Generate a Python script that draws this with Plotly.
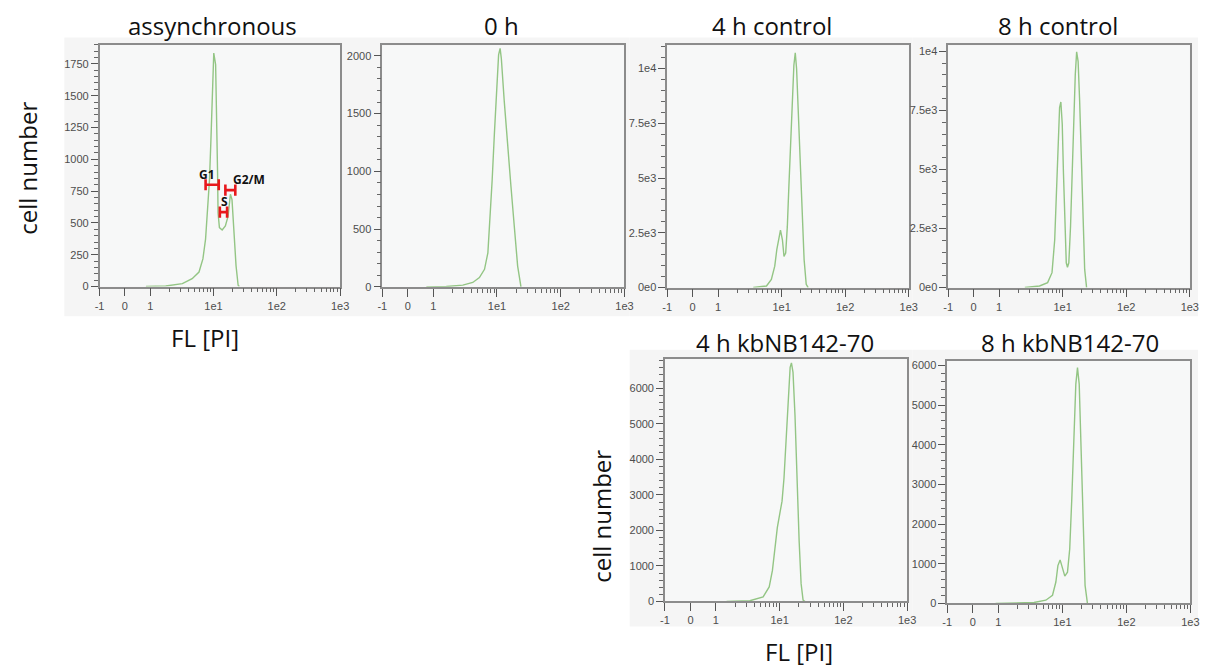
import numpy as np
import plotly.graph_objects as go

W, H = 1207, 672

# ---------------- data (FL channel value, cell count) ----------------
asyn_fl = [0.83, 1.76, 3.22, 4.6, 5.9, 6.8, 7.49, 8.05, 8.64, 9.1, 9.55, 10.1, 10.8, 11.2, 11.6,
           11.8, 12.4, 13.7, 15.4, 17.0, 18.5, 19.6, 20.9, 22.7, 24.5, 25.6]
asyn_n = [0, 5, 23, 62, 114, 217, 373, 580, 838, 1149, 1537, 1835, 1745, 1408, 890,
          580, 463, 445, 476, 554, 725, 683, 450, 165, 10, 0]

h0_fl = [0.73, 1.6, 2.91, 4.17, 5.3, 6.37, 7.2, 7.8, 8.4, 9.1, 9.9, 10.6, 11.2, 11.7, 13.0,
         14.7, 16.6, 18.7, 21.1, 23.8]
h0_n = [0, 3, 15, 38, 80, 152, 295, 580, 923, 1323, 1722, 2008, 2065, 1979, 1608,
        1208, 865, 523, 180, 0]

c4_fl = [3.58, 5.78, 6.9, 7.8, 8.4, 9.1, 9.6, 10.3, 10.9, 11.6, 12.3, 13.0, 13.9, 14.7, 15.6,
         16.4, 17.2, 18.2, 19.6, 21.1, 22.6, 24.4, 26.2]
c4_n = [0, 72, 375, 975, 1728, 2330, 2620, 2180, 1426, 1580, 2780, 4585, 6692, 8800, 10150,
        10720, 10000, 8195, 5940, 3385, 1277, 150, 0]

c8_fl = [2.54, 4.33, 5.8, 6.8, 7.5, 8.0, 8.55, 8.95, 9.37, 9.85, 10.3, 10.8, 11.4, 11.9, 12.5,
         13.3, 14.1, 14.9, 15.8, 16.6, 17.5, 18.5, 19.7, 20.9, 22.2, 23.8]
c8_n = [0, 67, 210, 630, 2027, 4125, 6223, 7620, 7860, 6924, 4825, 2446, 1049, 860, 1049,
        2585, 4825, 7200, 9022, 9980, 9580, 7900, 5100, 2585, 768, 0]

k4_fl = [1.47, 3.4, 5.5, 6.85, 7.7, 8.4, 9.2, 10.0, 10.9, 11.7, 12.6, 13.5, 14.6, 15.3, 16.2,
         17.4, 18.7, 20.2, 21.7, 23.3, 25.0]
k4_n = [0, 20, 130, 410, 874, 1527, 2085, 2456, 2827, 3480, 4597, 5805, 6595, 6720, 6455,
        5247, 3480, 1711, 502, 36, 0]

k8_fl = [0.89, 1.74, 3.6, 5.5, 7.0, 7.9, 8.5, 9.2, 10.0, 10.9, 12.0, 13.0, 14.0, 15.1, 16.2,
         17.2, 18.3, 19.6, 21.1, 22.6, 24.6]
k8_n = [0, 5, 25, 82, 207, 540, 955, 1097, 873, 688, 788, 1372, 2618, 4279, 5526,
        5943, 5526, 3865, 1786, 456, 0]

titles = ["assynchronous", "0 h", "4 h control", "8 h control", "4 h kbNB142-70", "8 h kbNB142-70"]

x_tick_fl = [-1, 0, 1, 10, 100, 1000]
x_tick_text = ["-1", "0", "1", "1e1", "1e2", "1e3"]
x_minor_fl = [2, 3, 4, 5, 6, 7, 8, 9, 20, 30, 40, 50, 60, 70, 80, 90,
              200, 300, 400, 500, 600, 700, 800, 900]

y_ticks_cnt = [[0, 250, 500, 750, 1000, 1250, 1500, 1750],
               [0, 500, 1000, 1500, 2000],
               [0, 2500, 5000, 7500, 10000],
               [0, 2500, 5000, 7500, 10000],
               [0, 1000, 2000, 3000, 4000, 5000, 6000],
               [0, 1000, 2000, 3000, 4000, 5000, 6000]]
y_ticks_txt = [[str(v) for v in y_ticks_cnt[0]],
               [str(v) for v in y_ticks_cnt[1]],
               ["0e0", "2.5e3", "5e3", "7.5e3", "1e4"],
               ["0e0", "2.5e3", "5e3", "7.5e3", "1e4"],
               [str(v) for v in y_ticks_cnt[4]],
               [str(v) for v in y_ticks_cnt[5]]]
y_minor_step = [50, 100, 500, 500, 200, 200]
y_max = [1900, 2090, 11050, 10250, 6820, 6110]

# gate markers in the asynchronous panel: (label, FL start, FL end, count)
gate_names = ["G1", "S", "G2/M"]
gate_lo = [7.5, 12.6, 15.4]
gate_hi = [12.1, 16.4, 22.1]
gate_cnt = [800, 585, 758]
gate_lbl_fl = [7.9, 14.7, 36.0]
gate_lbl_cnt = [880, 665, 840]


# ---------------- custom biexponential-like display scale ----------------
def biex(v):
    v = np.asarray(v, dtype=float)
    return np.where(v < 1, v, 1 + 2.5 * np.log10(np.maximum(v, 1)))


series = [(asyn_fl, asyn_n), (h0_fl, h0_n), (c4_fl, c4_n), (c8_fl, c8_n), (k4_fl, k4_n), (k8_fl, k8_n)]

# panel frames in pixels: (left, right, top, bottom)
frames = [(95.7, 339.0, 43.3, 288.0),
          (381.7, 626.7, 44.0, 288.3),
          (670.0, 914.3, 44.0, 289.0),
          (954.3, 1198.7, 44.0, 289.0),
          (667.7, 912.7, 361.7, 606.7),
          (953.3, 1199.3, 363.3, 608.7)]
# scanned grey backgrounds of each panel
backs = [(60, 346, 36, 318), (346, 632, 36, 318), (632, 918, 36, 318), (918, 1207, 36, 318),
         (632, 918, 352, 632), (918, 1207, 352, 632)]

GREEN = "#93c584"
AXC = "#8c8c8c"
TICKFONT = dict(family="Liberation Sans, Arial, sans-serif", size=11, color="#4d4d4d")

fig = go.Figure()
layout = dict(width=W, height=H, margin=dict(l=0, r=0, t=0, b=0),
              paper_bgcolor="white", plot_bgcolor="#f7f8f8", showlegend=False)
shapes = []
for (l, r, t, b) in backs:
    shapes.append(dict(type="rect", xref="paper", yref="paper", x0=l / W, x1=r / W,
                       y0=1 - b / H, y1=1 - t / H, fillcolor="#f5f5f5", line=dict(width=0),
                       layer="below"))

for i, ((fl, n), (l, r, t, b)) in enumerate(zip(series, frames)):
    k = "" if i == 0 else str(i + 1)
    fig.add_trace(go.Scatter(x=biex(fl), y=n, mode="lines", xaxis="x" + k, yaxis="y" + k,
                             line=dict(color=GREEN, width=1.4), hoverinfo="skip"))
    shapes.append(dict(type="rect", xref="x" + k + " domain", yref="y" + k + " domain",
                       x0=0, x1=1, y0=0, y1=1, fillcolor="#f7f8f8", line=dict(width=0),
                       layer="below"))
    layout["xaxis" + k] = dict(
        domain=[l / W, r / W], anchor="y" + k, range=[-1, 8.5], showgrid=False, zeroline=False,
        showline=True, linecolor=AXC, linewidth=1.5, mirror=True,
        tickmode="array", tickvals=biex(x_tick_fl).tolist(), ticktext=x_tick_text,
        ticks="outside", ticklen=8, tickwidth=1.2, tickcolor="#555",
        minor=dict(tickmode="array", tickvals=biex(x_minor_fl).tolist(), ticks="outside",
                   ticklen=4, tickwidth=1, tickcolor="#666"),
        tickfont=TICKFONT, fixedrange=True)
    layout["yaxis" + k] = dict(
        domain=[1 - b / H, 1 - t / H], anchor="x" + k, range=[0, y_max[i]], showgrid=False,
        zeroline=False, showline=True, linecolor=AXC, linewidth=1.5, mirror=True,
        tickmode="array", tickvals=y_ticks_cnt[i], ticktext=y_ticks_txt[i],
        ticks="outside", ticklen=7, tickwidth=1.2, tickcolor="#555",
        minor=dict(dtick=y_minor_step[i], tick0=0, ticks="outside", ticklen=4, tickwidth=1,
                   tickcolor="#666"),
        tickfont=TICKFONT, fixedrange=True)

# gate bars
gx, gy = [], []
for lo, hi, c in zip(gate_lo, gate_hi, gate_cnt):
    gx += [float(biex(lo)), float(biex(hi)), None]
    gy += [c, c, None]
fig.add_trace(go.Scatter(x=gx, y=gy, mode="lines+markers", xaxis="x", yaxis="y",
                         line=dict(color="#e8181c", width=2.6),
                         marker=dict(symbol="line-ns", size=8,
                                     line=dict(color="#e8181c", width=2.6)),
                         hoverinfo="skip"))

annotations = []
for name, fx, cy in zip(gate_names, gate_lbl_fl, gate_lbl_cnt):
    annotations.append(dict(x=float(biex(fx)), y=cy, xref="x", yref="y", text="<b>" + name + "</b>",
                            showarrow=False, font=dict(family="Open Sans, sans-serif", size=12,
                                                       color="#111")))

TF = dict(family="Open Sans, sans-serif", size=24, color="#111")
title_pos = [(210, 24), (502, 24), (776, 24), (1065, 24), (789, 345), (1077, 345)]
for txt, (x, y) in zip(titles, title_pos):
    annotations.append(dict(x=x / W, y=1 - y / H, xref="paper", yref="paper", text=txt,
                            showarrow=False, font=TF, xanchor="center", yanchor="middle"))

for (x, y) in [(22, 168), (604, 520)]:
    annotations.append(dict(x=x / W, y=1 - y / H, xref="paper", yref="paper", text="cell number",
                            textangle=-90, showarrow=False, font=TF,
                            xanchor="center", yanchor="middle"))
for (x, y) in [(202, 340), (803, 657)]:
    annotations.append(dict(x=x / W, y=1 - y / H, xref="paper", yref="paper", text="FL [PI]",
                            showarrow=False, font=TF, xanchor="center", yanchor="middle"))

layout["shapes"] = shapes
layout["annotations"] = annotations
fig.update_layout(**layout)
fig.write_html("out.html")
